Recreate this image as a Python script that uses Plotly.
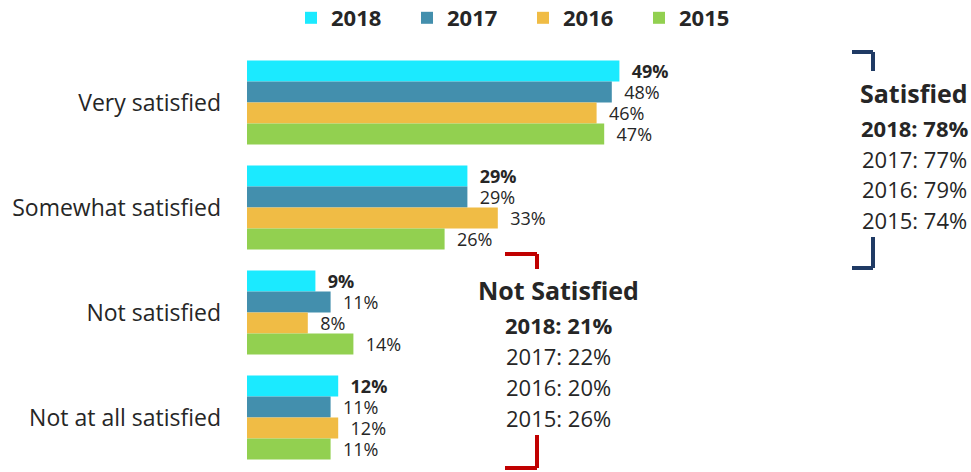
import plotly.graph_objects as go

categories = ["Very satisfied", "Somewhat satisfied", "Not satisfied", "Not at all satisfied"]
years = ["2018", "2017", "2016", "2015"]
values_2018 = [49, 29, 9, 12]
values_2017 = [48, 29, 11, 11]
values_2016 = [46, 33, 8, 12]
values_2015 = [47, 26, 14, 11]
series = [values_2018, values_2017, values_2016, values_2015]
colors = ["#1BEAFF", "#438FAD", "#F0BC45", "#92D050"]

satisfied_totals = [78, 77, 79, 74]
not_satisfied_totals = [21, 22, 20, 26]

FONT = "Open Sans"
TXT = "#262626"

W, H = 971, 472
L, R, T, B = 247, 969, 50, 470
XMAX = 95


def px(x):
    return (x - L) / (R - L)


def py(y):
    return (B - y) / (B - T)


fig = go.Figure()
for yr, vals, col in zip(years, series, colors):
    fig.add_trace(go.Bar(
        y=categories, x=vals, name=yr, orientation="h",
        marker=dict(color=col, line=dict(width=0)),
        text=["\u00a0\u00a0" + f"{v}%" for v in vals],
        textposition="outside",
        constraintext="none",
        textfont=dict(family=FONT, size=18, color=TXT,
                      weight="bold" if yr == "2018" else "normal"),
        cliponaxis=False,
        hoverinfo="skip",
    ))

annotations = []
shapes = []


def block(title, totals, cx, ys, color, bracket):
    annotations.append(dict(text=title, x=px(cx), y=py(ys[0]), xref="paper", yref="paper",
                            showarrow=False, xanchor="center", yanchor="middle",
                            font=dict(family=FONT, size=25, color=TXT, weight="bold")))
    for i, (yr, v) in enumerate(zip(years, totals)):
        annotations.append(dict(text=f"{yr}: {v}%", x=px(cx), y=py(ys[i + 1]),
                                xref="paper", yref="paper", showarrow=False,
                                xanchor="center", yanchor="middle",
                                font=dict(family=FONT, size=22, color=TXT,
                                          weight="bold" if i == 0 else "normal")))
    x0, x1, ytop, ytop2, ybot1, ybot = bracket
    for (a, b, c, d) in [(x0, ytop, x1, ytop), (x1, ytop, x1, ytop2),
                         (x1, ybot1, x1, ybot), (x1, ybot, x0, ybot)]:
        shapes.append(dict(type="line", xref="paper", yref="paper",
                           x0=px(a), y0=py(b), x1=px(c), y1=py(d),
                           line=dict(color=color, width=4)))


block("Satisfied", satisfied_totals, 914, [93, 128, 159, 189, 220], "#1F3A64",
      (852, 873, 52, 71, 237, 268))
block("Not Satisfied", not_satisfied_totals, 558, [290, 325, 356, 387, 418], "#C00000",
      (505, 537, 254, 269, 435, 468))

fig.update_layout(
    width=W, height=H,
    margin=dict(l=L, r=W - R, t=T, b=H - B, pad=0, autoexpand=False),
    paper_bgcolor="white", plot_bgcolor="white",
    barmode="group", bargap=0.2, bargroupgap=0,
    font=dict(family=FONT, color=TXT),
    showlegend=True,
    legend=dict(orientation="h", x=px(523), xanchor="center", y=py(18), yanchor="middle",
                font=dict(family=FONT, size=22, color=TXT, weight="bold"),
                entrywidth=71, entrywidthmode="pixels", itemclick=False),
    xaxis=dict(range=[0, XMAX], visible=False, fixedrange=True),
    yaxis=dict(type="category", categoryarray=categories, categoryorder="array",
               autorange="reversed", showgrid=False, zeroline=False, showline=False,
               ticks="", ticklabelstandoff=25,
               tickfont=dict(family=FONT, size=23, color=TXT), fixedrange=True),
    annotations=annotations, shapes=shapes,
)

fig.write_html("out.html", config={"displayModeBar": False},
               post_script="document.body.style.margin='0';document.body.style.padding='0';")
